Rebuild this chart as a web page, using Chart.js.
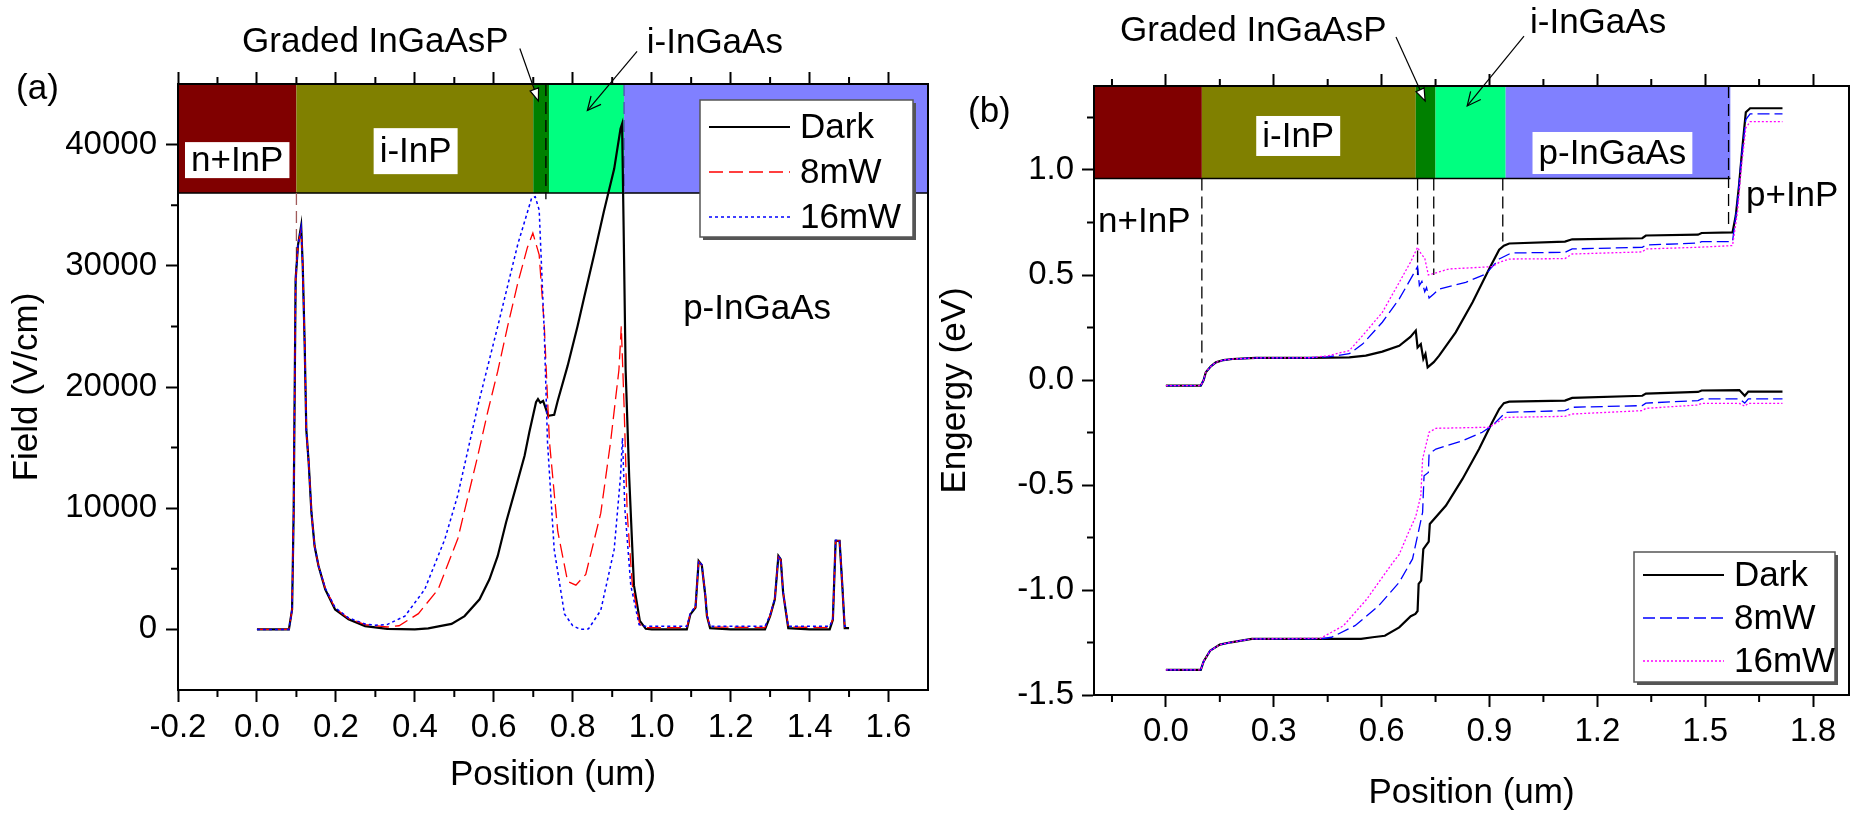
<!DOCTYPE html>
<html>
<head>
<meta charset="utf-8">
<script src="https://cdn.jsdelivr.net/npm/chart.js@4.4.1/dist/chart.umd.min.js"></script>
<style>
    html, body {margin: 0; padding: 0; background: #fff;}
    #panelA {position: absolute; left: 0; top: 0; width: 930px; height: 814px;}
    #panelB {position: absolute; left: 930px; top: 0; width: 928px; height: 814px;}
</style>
</head>
<body>
<div id="panelA"><canvas id="fieldChart"></canvas></div>
<div id="panelB"><canvas id="bandChart"></canvas></div>
<script>
// ---- data ----
const seriesNames = ['Dark', '8mW', '16mW']

// (a) electric field, V/cm vs position, um
const fieldDarkX = [0, 0.081, 0.089, 0.093, 0.098, 0.104, 0.112, 0.116, 0.121, 0.125, 0.131, 0.138, 0.146, 0.156, 0.173, 0.198, 0.232, 0.274, 0.33, 0.40, 0.434, 0.46, 0.493, 0.526, 0.564, 0.589, 0.61, 0.631, 0.657, 0.678, 0.69, 0.707, 0.712, 0.718, 0.725, 0.738, 0.753, 0.762, 0.787, 0.812, 0.829, 0.854, 0.879, 0.905, 0.921, 0.925, 0.929, 0.934, 0.943, 0.955, 0.97, 0.985, 1.0, 1.089, 1.098, 1.111, 1.119, 1.127, 1.136, 1.14, 1.148, 1.2, 1.287, 1.3, 1.312, 1.321, 1.327, 1.333, 1.346, 1.4, 1.451, 1.459, 1.466, 1.476, 1.483, 1.489, 1.5]
const fieldDarkY = [0, 0, 1650, 9670, 28900, 31700, 33300, 30000, 23400, 16500, 13800, 9670, 6880, 5230, 3300, 1650, 830, 270, 50, 0, 80, 250, 450, 1100, 2480, 4130, 6060, 8820, 11840, 14320, 16260, 18740, 19000, 18700, 18850, 17630, 17700, 18870, 21740, 25000, 27400, 30900, 34500, 38000, 41300, 41700, 33000, 21400, 12600, 3650, 700, 50, 0, 0, 1240, 1800, 5650, 5300, 2750, 1100, 100, 0, 0, 1100, 2480, 6060, 5780, 3030, 100, 0, 0, 800, 7300, 7300, 3580, 100, 100]
const field8X = [0, 0.081, 0.089, 0.093, 0.098, 0.104, 0.112, 0.116, 0.121, 0.125, 0.131, 0.138, 0.146, 0.156, 0.173, 0.198, 0.232, 0.274, 0.33, 0.36, 0.409, 0.459, 0.509, 0.56, 0.585, 0.61, 0.635, 0.661, 0.685, 0.699, 0.715, 0.728, 0.741, 0.762, 0.787, 0.808, 0.833, 0.871, 0.896, 0.917, 0.923, 0.93, 0.938, 0.951, 0.97, 0.985, 1.089, 1.098, 1.111, 1.119, 1.127, 1.136, 1.14, 1.148, 1.287, 1.3, 1.312, 1.321, 1.327, 1.333, 1.346, 1.451, 1.459, 1.466, 1.476, 1.483, 1.489, 1.5]
const field8Y = [0, 0, 1650, 9670, 28900, 31700, 33000, 30000, 23400, 16500, 13800, 9670, 6880, 5230, 3400, 1750, 900, 400, 200, 300, 1300, 3300, 7500, 14400, 18000, 21300, 25000, 28600, 31500, 32700, 30900, 25000, 15500, 8100, 3960, 3650, 4540, 9590, 15500, 21400, 25000, 18500, 9590, 3650, 400, 150, 150, 1300, 1850, 5600, 5300, 2800, 1150, 200, 150, 1150, 2500, 6000, 5750, 3050, 200, 150, 850, 7300, 7300, 3600, 200, 200]
const field16X = [0, 0.081, 0.089, 0.093, 0.098, 0.104, 0.112, 0.116, 0.121, 0.125, 0.131, 0.138, 0.146, 0.156, 0.173, 0.198, 0.232, 0.274, 0.3, 0.33, 0.375, 0.425, 0.476, 0.509, 0.56, 0.61, 0.661, 0.696, 0.705, 0.715, 0.728, 0.736, 0.753, 0.779, 0.8, 0.82, 0.84, 0.871, 0.905, 0.921, 0.926, 0.932, 0.947, 0.968, 0.985, 1.089, 1.098, 1.111, 1.119, 1.127, 1.136, 1.14, 1.148, 1.287, 1.3, 1.312, 1.321, 1.327, 1.333, 1.346, 1.451, 1.459, 1.466, 1.476, 1.483, 1.489, 1.5]
const field16Y = [0, 0, 1650, 9670, 28900, 31700, 33200, 30000, 23400, 16500, 13800, 9670, 6880, 5230, 3400, 1800, 950, 450, 350, 400, 1100, 3300, 7440, 11100, 18500, 25000, 31800, 35600, 35700, 34600, 24400, 15500, 6600, 1280, 300, 0, 50, 1570, 6600, 12600, 15800, 10000, 3650, 400, 250, 250, 1350, 1900, 5650, 5350, 2850, 1200, 250, 250, 1200, 2550, 6050, 5800, 3100, 250, 250, 900, 7350, 7350, 3650, 250, 250]

// (b) band edges, eV vs position, um
const cbDarkX = [0, 0.097, 0.105, 0.111, 0.125, 0.139, 0.16, 0.185, 0.25, 0.4, 0.51, 0.556, 0.602, 0.649, 0.68, 0.695, 0.7, 0.709, 0.716, 0.722, 0.728, 0.745, 0.76, 0.806, 0.853, 0.899, 0.927, 0.94, 0.955, 1.11, 1.13, 1.325, 1.335, 1.48, 1.49, 1.576, 1.585, 1.594, 1.603, 1.613, 1.625, 1.715]
const cbDarkY = [-0.027, -0.027, 0, 0.037, 0.065, 0.084, 0.095, 0.1, 0.105, 0.105, 0.108, 0.116, 0.135, 0.163, 0.205, 0.235, 0.155, 0.171, 0.1, 0.124, 0.06, 0.085, 0.116, 0.227, 0.37, 0.529, 0.62, 0.64, 0.65, 0.659, 0.67, 0.675, 0.688, 0.692, 0.7, 0.703, 0.782, 0.925, 1.1, 1.275, 1.294, 1.294]
const cb8X = [0, 0.097, 0.105, 0.111, 0.125, 0.139, 0.16, 0.185, 0.25, 0.4, 0.45, 0.51, 0.547, 0.602, 0.649, 0.686, 0.7, 0.705, 0.712, 0.72, 0.725, 0.732, 0.745, 0.76, 0.834, 0.89, 0.908, 0.927, 0.955, 0.964, 1.11, 1.13, 1.325, 1.335, 1.48, 1.49, 1.576, 1.59, 1.6, 1.613, 1.625, 1.715]
const cb8Y = [-0.027, -0.027, 0, 0.037, 0.065, 0.084, 0.095, 0.1, 0.105, 0.106, 0.11, 0.125, 0.171, 0.275, 0.386, 0.497, 0.54, 0.45, 0.47, 0.42, 0.44, 0.39, 0.41, 0.433, 0.465, 0.505, 0.54, 0.576, 0.6, 0.605, 0.608, 0.624, 0.632, 0.643, 0.652, 0.659, 0.659, 0.85, 1.05, 1.24, 1.267, 1.267]
const cb16X = [0, 0.097, 0.105, 0.111, 0.125, 0.139, 0.16, 0.185, 0.25, 0.4, 0.45, 0.51, 0.547, 0.602, 0.649, 0.68, 0.7, 0.71, 0.72, 0.73, 0.741, 0.788, 0.88, 0.908, 0.927, 0.955, 1.11, 1.13, 1.325, 1.335, 1.48, 1.576, 1.59, 1.6, 1.613, 1.625, 1.715]
const cb16Y = [-0.027, -0.027, 0, 0.037, 0.065, 0.084, 0.095, 0.1, 0.105, 0.106, 0.115, 0.14, 0.211, 0.322, 0.465, 0.56, 0.632, 0.6, 0.58, 0.5, 0.505, 0.529, 0.537, 0.54, 0.56, 0.576, 0.578, 0.6, 0.61, 0.624, 0.632, 0.64, 0.8, 1.0, 1.2, 1.23, 1.23]
const vbDarkX = [0, 0.097, 0.105, 0.123, 0.15, 0.181, 0.239, 0.543, 0.575, 0.609, 0.649, 0.681, 0.694, 0.7, 0.703, 0.71, 0.716, 0.731, 0.734, 0.779, 0.825, 0.871, 0.908, 0.927, 0.94, 0.955, 1.11, 1.13, 1.325, 1.335, 1.48, 1.49, 1.595, 1.61, 1.62, 1.715]
const vbDarkY = [-1.38, -1.38, -1.34, -1.289, -1.26, -1.249, -1.233, -1.233, -1.225, -1.218, -1.178, -1.125, -1.114, -1.1, -0.971, -0.955, -0.805, -0.77, -0.686, -0.598, -0.471, -0.329, -0.2, -0.138, -0.11, -0.103, -0.098, -0.085, -0.075, -0.065, -0.057, -0.05, -0.048, -0.075, -0.055, -0.055]
const vb8X = [0, 0.097, 0.105, 0.123, 0.15, 0.181, 0.239, 0.43, 0.461, 0.526, 0.592, 0.649, 0.686, 0.704, 0.714, 0.718, 0.73, 0.732, 0.751, 0.825, 0.88, 0.908, 0.945, 1.11, 1.13, 1.325, 1.335, 1.48, 1.49, 1.595, 1.61, 1.62, 1.715]
const vb8Y = [-1.38, -1.38, -1.34, -1.289, -1.26, -1.249, -1.233, -1.233, -1.225, -1.17, -1.075, -0.963, -0.852, -0.71, -0.63, -0.456, -0.44, -0.352, -0.329, -0.289, -0.249, -0.217, -0.154, -0.146, -0.13, -0.122, -0.11, -0.098, -0.09, -0.09, -0.11, -0.09, -0.09]
const vb16X = [0, 0.097, 0.105, 0.123, 0.15, 0.181, 0.239, 0.43, 0.494, 0.559, 0.625, 0.649, 0.675, 0.695, 0.709, 0.714, 0.732, 0.751, 0.899, 0.945, 1.11, 1.13, 1.325, 1.335, 1.48, 1.49, 1.595, 1.61, 1.62, 1.715]
const vb16Y = [-1.38, -1.38, -1.34, -1.289, -1.26, -1.249, -1.233, -1.23, -1.17, -1.043, -0.884, -0.83, -0.725, -0.65, -0.551, -0.376, -0.249, -0.23, -0.225, -0.178, -0.173, -0.162, -0.146, -0.135, -0.119, -0.111, -0.111, -0.125, -0.111, -0.111]

// layer stack (um) drawn as the coloured strip along the top
const layerNames = ['n+InP', 'i-InP', 'Graded InGaAsP', 'i-InGaAs', 'p-InGaAs']
const fieldLayerStart = [-0.2, 0.1, 0.70, 0.74, 0.93]
const fieldLayerEnd = [0.1, 0.70, 0.74, 0.93, 1.7]
const bandLayerStart = [-0.2, 0.1, 0.695, 0.75, 0.945]
const bandLayerEnd = [0.1, 0.695, 0.75, 0.945, 1.57]

// dashed interface markers
const fieldMarkX = [0.1, 0.732, 0.93]
const fieldMarkTop = [36000, 45000, 45000]
const fieldMarkBottom = [29000, 35500, 36000]
const bandMarkX = [0.1, 0.70, 0.745, 0.937, 1.565]
const bandMarkTop = [0.96, 0.96, 0.96, 0.96, 1.4]
const bandMarkBottom = [0.08, 0.5, 0.5, 0.66, 0.72]

// ---- styles ----
const FAMILY = '"Liberation Sans", Arial, Helvetica, sans-serif'
const TEXT_FONT = '35px ' + FAMILY
const layerColors = ['#800000', '#808000', '#008000', '#00ff80', '#8080ff']
const fieldStyles = [
    {color: '#000000', width: 2.2, dash: [], order: 3},
    {color: '#ff0000', width: 1.3, dash: [14, 6], order: 2},
    {color: '#0000ff', width: 1.5, dash: [3, 3], order: 1}
]
const bandStyles = [
    {color: '#000000', width: 2.2, dash: [], order: 3},
    {color: '#0000ff', width: 1.3, dash: [12, 5], order: 2},
    {color: '#ff00ff', width: 1.3, dash: [2, 2], order: 1}
]
const markColorsA = ['#a05a5a', '#000000', '#5050b0']

Chart.defaults.font.family = FAMILY
Chart.defaults.color = '#000'

const toPoints = (xs, ys) => xs.map((x, i) => ({x: x, y: ys[i]}))

const curve = (label, xs, ys, style, inLegend) => ({
    label: label,
    data: toPoints(xs, ys),
    borderColor: style.color,
    borderWidth: style.width,
    borderDash: style.dash,
    pointRadius: 0,
    tension: 0,
    fill: false,
    order: style.order,
    inLegend: inLegend
})

const markers = (xs, tops, bottoms, colors) => xs.map((x, i) => ({
    label: 'marker',
    data: [{x: x, y: tops[i]}, {x: x, y: bottoms[i]}],
    borderColor: colors[i],
    borderWidth: 1.3,
    borderDash: [12, 6],
    pointRadius: 0,
    fill: false,
    order: 4,
    inLegend: false
}))

// major ticks on whole multiples of the step only
const stepTicks = (min, max, step) => s => {
    const out = []
    for (let i = Math.ceil(min / step - 1e-9); i * step <= max + 1e-9; i++) {
        out.push({value: +(i * step).toFixed(6)})
    }
    s.ticks = out
}

// draws minor ticks half way between the major ones
function minorTicks(ctx, scale, minor, len, side, area) {
    const major = scale.options.ticks.stepSize
    const first = Math.ceil((scale.min + 1e-9) / minor)
    const last = Math.floor((scale.max - 1e-9) / minor)
    ctx.beginPath()
    for (let i = first; i <= last; i++) {
        const v = i * minor
        const r = v / major
        if (Math.abs(r - Math.round(r)) < 1e-6) continue
        const p = scale.getPixelForValue(v)
        if (side === 'bottom') { ctx.moveTo(p, area.bottom); ctx.lineTo(p, area.bottom + len) }
        else if (side === 'top') { ctx.moveTo(p, area.top); ctx.lineTo(p, area.top - len) }
        else { ctx.moveTo(area.left, p); ctx.lineTo(area.left - len, p) }
    }
    ctx.stroke()
}

function arrow(ctx, x0, y0, x1, y1, filled) {
    ctx.beginPath()
    ctx.moveTo(x0, y0)
    ctx.lineTo(x1, y1)
    ctx.stroke()
    const a = Math.atan2(y1 - y0, x1 - x0)
    const len = filled ? 13 : 15, spread = filled ? 0.35 : 0.45
    const p1 = [x1 - len * Math.cos(a - spread), y1 - len * Math.sin(a - spread)]
    const p2 = [x1 - len * Math.cos(a + spread), y1 - len * Math.sin(a + spread)]
    ctx.beginPath()
    if (filled) {
        ctx.moveTo(x1, y1); ctx.lineTo(p1[0], p1[1]); ctx.lineTo(p2[0], p2[1]); ctx.closePath()
        ctx.fillStyle = '#fff'; ctx.fill(); ctx.stroke()
    } else {
        ctx.moveTo(p1[0], p1[1]); ctx.lineTo(x1, y1); ctx.lineTo(p2[0], p2[1])
        ctx.stroke()
    }
}

// strip of layers, frame, minor ticks, labels, arrows and the legend
const makeDecor = cfg => ({
    id: 'decor',
    beforeDatasetsDraw(chart) {
        const {ctx, chartArea: a, scales: {x, y}} = chart
        ctx.save()
        ctx.beginPath(); ctx.rect(a.left, a.top, a.width, a.height); ctx.clip()
        const yt = y.getPixelForValue(cfg.layerTop), yb = y.getPixelForValue(cfg.layerBottom)
        cfg.layerStart.forEach((s, i) => {
            const x0 = x.getPixelForValue(s), x1 = x.getPixelForValue(cfg.layerEnd[i])
            ctx.fillStyle = layerColors[i]
            ctx.fillRect(x0, yt, x1 - x0, yb - yt)
        })
        ctx.strokeStyle = '#000'; ctx.lineWidth = 1.5
        ctx.beginPath()
        ctx.moveTo(x.getPixelForValue(cfg.layerStart[0]), yb)
        ctx.lineTo(x.getPixelForValue(cfg.layerEnd[cfg.layerEnd.length - 1]), yb)
        ctx.stroke()
        ctx.restore()
    },
    afterDraw(chart) {
        const {ctx, chartArea: a, scales: {x, y}} = chart
        ctx.save()
        ctx.strokeStyle = '#000'; ctx.lineWidth = 2
        ctx.strokeRect(a.left, a.top, a.width, a.height)
        minorTicks(ctx, x, cfg.minorX, 7, 'bottom', a)
        minorTicks(ctx, x, cfg.minorX, 7, 'top', a)
        minorTicks(ctx, y, cfg.minorY, 7, 'left', a)

        ctx.font = TEXT_FONT
        ctx.textAlign = 'center'
        ctx.textBaseline = 'middle'
        cfg.tags.forEach(t => {
            const px = x.getPixelForValue(t.x), py = y.getPixelForValue(t.y)
            if (t.box) {
                const w = ctx.measureText(t.text).width
                ctx.fillStyle = '#fff'
                ctx.fillRect(px - w / 2 - 6, py - t.box / 2, w + 12, t.box)
            }
            ctx.fillStyle = '#000'
            ctx.fillText(t.text, px, py + 1)
        })

        ctx.strokeStyle = '#000'; ctx.lineWidth = 1.2
        cfg.arrows.forEach(r => arrow(ctx,
            x.getPixelForValue(r.from[0]), y.getPixelForValue(r.from[1]),
            x.getPixelForValue(r.to[0]), y.getPixelForValue(r.to[1]), r.filled))

        // legend box
        const L = cfg.legend
        const bx = a.right - L.right - L.width
        const by = L.top !== undefined ? a.top + L.top : a.bottom - L.bottom - L.height
        ctx.fillStyle = '#555'
        ctx.fillRect(bx + 3, by + 3, L.width, L.height)
        ctx.fillStyle = '#fff'
        ctx.fillRect(bx, by, L.width, L.height)
        ctx.strokeStyle = '#555'; ctx.lineWidth = 1.5
        ctx.strokeRect(bx, by, L.width, L.height)
        const items = chart.data.datasets.filter(d => d.inLegend)
        items.forEach((d, i) => {
            const ry = by + L.firstRow + i * L.rowGap
            ctx.strokeStyle = d.borderColor
            ctx.lineWidth = d.borderWidth
            ctx.setLineDash(d.borderDash)
            ctx.beginPath(); ctx.moveTo(bx + 9, ry); ctx.lineTo(bx + 90, ry); ctx.stroke()
            ctx.setLineDash([])
            ctx.fillStyle = '#000'
            ctx.textAlign = 'left'
            ctx.fillText(d.label, bx + 100, ry + 1)
        })
        ctx.restore()
    }
})

function xAxis(min, max, step, height, tickPad, titlePad) {
    return {
        type: 'linear', position: 'bottom', min: min, max: max,
        afterBuildTicks: stepTicks(min, max, step),
        ticks: {stepSize: step, autoSkip: false, maxRotation: 0,
            padding: tickPad, font: {size: 33}, callback: v => v.toFixed(1)},
        grid: {drawOnChartArea: false, tickLength: 12, tickWidth: 2, tickColor: '#000'},
        border: {color: '#000', width: 2},
        title: {display: true, text: 'Position (um)', font: {size: 35}, padding: {top: 0, bottom: titlePad}},
        afterFit: s => { s.height = height }
    }
}

function topAxis(min, max, step) {
    return {
        type: 'linear', position: 'top', min: min, max: max,
        afterBuildTicks: stepTicks(min, max, step),
        ticks: {display: false, stepSize: step},
        grid: {drawOnChartArea: false, tickLength: 12, tickWidth: 2, tickColor: '#000'},
        border: {color: '#000', width: 2},
        afterFit: s => { s.height = 12 }
    }
}

function yAxis(min, max, step, width, tickPad, title, titlePad, fmt) {
    return {
        type: 'linear', position: 'left', min: min, max: max,
        afterBuildTicks: stepTicks(min, max, step),
        ticks: {stepSize: step, padding: tickPad, font: {size: 33}, callback: fmt},
        grid: {drawOnChartArea: false, tickLength: 12, tickWidth: 2, tickColor: '#000'},
        border: {color: '#000', width: 2},
        title: {display: true, text: title, font: {size: 35}, padding: {top: titlePad, bottom: 0}},
        afterFit: s => { s.width = width }
    }
}

const baseOptions = {
    responsive: true,
    maintainAspectRatio: false,
    animation: false,
    events: [],
    plugins: {legend: {display: false}, tooltip: {enabled: false}}
}

// ---- panel (a) ----
new Chart(document.getElementById('fieldChart'), {
    type: 'line',
    data: {
        datasets: [
            curve(seriesNames[0], fieldDarkX, fieldDarkY, fieldStyles[0], true),
            curve(seriesNames[1], field8X, field8Y, fieldStyles[1], true),
            curve(seriesNames[2], field16X, field16Y, fieldStyles[2], true),
            ...markers(fieldMarkX, fieldMarkTop, fieldMarkBottom, markColorsA)
        ]
    },
    options: {
        ...baseOptions,
        layout: {padding: {left: 0, right: 2, top: 72, bottom: 0}},
        scales: {
            x: xAxis(-0.2, 1.7, 0.2, 124, 6, 18),
            x2: topAxis(-0.2, 1.7, 0.2),
            y: yAxis(-5000, 45000, 10000, 178, 9, 'Field (V/cm)', 6, v => String(v))
        }
    },
    plugins: [makeDecor({
        layerStart: fieldLayerStart, layerEnd: fieldLayerEnd, layerTop: 45000, layerBottom: 36000,
        minorX: 0.1, minorY: 5000,
        tags: [
            {text: layerNames[0], x: -0.05, y: 38720, box: 36},
            {text: layerNames[1], x: 0.402, y: 39460, box: 46},
            {text: layerNames[4], x: 1.267, y: 26450},
            {text: layerNames[2], x: 0.30, y: 48510},
            {text: layerNames[3], x: 1.16, y: 48430},
            {text: '(a)', x: -0.556, y: 44630}
        ],
        arrows: [
            {from: [0.666, 47930], to: [0.713, 43600], filled: true},
            {from: [0.963, 47690], to: [0.837, 42810], filled: false}
        ],
        legend: {right: 15, top: 16, width: 213, height: 137, firstRow: 27, rowGap: 45}
    })]
})

// ---- panel (b) ----
new Chart(document.getElementById('bandChart'), {
    type: 'line',
    data: {
        datasets: [
            curve(seriesNames[0], cbDarkX, cbDarkY, bandStyles[0], true),
            curve(seriesNames[1], cb8X, cb8Y, bandStyles[1], true),
            curve(seriesNames[2], cb16X, cb16Y, bandStyles[2], true),
            curve(seriesNames[0], vbDarkX, vbDarkY, bandStyles[0], false),
            curve(seriesNames[1], vb8X, vb8Y, bandStyles[1], false),
            curve(seriesNames[2], vb16X, vb16Y, bandStyles[2], false),
            ...markers(bandMarkX, bandMarkTop, bandMarkBottom, bandMarkX.map(() => '#000'))
        ]
    },
    options: {
        ...baseOptions,
        layout: {padding: {left: 0, right: 9, top: 74, bottom: 0}},
        scales: {
            x: xAxis(-0.2, 1.9, 0.3, 119, 5, 0),
            x2: topAxis(-0.2, 1.9, 0.3),
            y: yAxis(-1.5, 1.4, 0.5, 164, 8, 'Engergy (eV)', 4, v => v.toFixed(1))
        }
    },
    plugins: [makeDecor({
        layerStart: bandLayerStart, layerEnd: bandLayerEnd, layerTop: 1.4, layerBottom: 0.96,
        minorX: 0.15, minorY: 0.25,
        tags: [
            {text: layerNames[1], x: 0.368, y: 1.162, box: 40},
            {text: layerNames[4], x: 1.242, y: 1.081, box: 42},
            {text: 'n+InP', x: -0.06, y: 0.757},
            {text: 'p+InP', x: 1.742, y: 0.881},
            {text: layerNames[2], x: 0.243, y: 1.667},
            {text: layerNames[3], x: 1.202, y: 1.705},
            {text: '(b)', x: -0.491, y: 1.281}
        ],
        arrows: [
            {from: [0.640, 1.633], to: [0.721, 1.329], filled: true},
            {from: [0.996, 1.638], to: [0.838, 1.305], filled: false}
        ],
        legend: {right: 14, bottom: 13, width: 201, height: 130, firstRow: 23, rowGap: 43}
    })]
})
</script>
</body>
</html>
